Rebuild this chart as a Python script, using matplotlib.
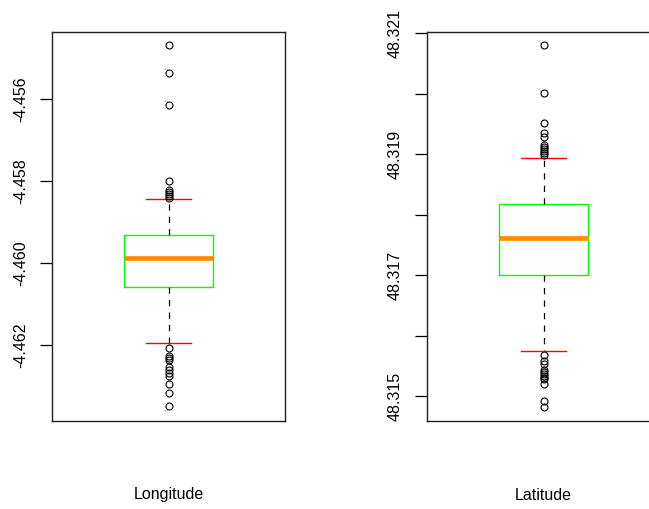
import numpy as np
import matplotlib
matplotlib.use('Agg')
import matplotlib.pyplot as plt

plt.rcParams['font.family'] = ['Liberation Sans', 'DejaVu Sans']
plt.rcParams['axes.unicode_minus'] = False

# Longitude: q1, median, q3 / whisker ends / outliers
lon_box = [-4.460585, -4.459878, -4.459317]
lon_whiskers = [-4.461959, -4.458451]
lon_fliers = [-4.454683, -4.455366, -4.456146, -4.458000,
              -4.458220, -4.458268, -4.458317, -4.458366, -4.458415,
              -4.462080, -4.462268, -4.462317, -4.462366, -4.462537,
              -4.462610, -4.462683, -4.462756, -4.462951, -4.463171,
              -4.463488]
lon_ticks = [-4.456, -4.458, -4.460, -4.462]
lon_ticklabels = ['-4.456', '-4.458', '-4.460', '-4.462']
lon_ylim = (-4.463854, -4.454366)

# Latitude
lat_box = [48.316995, 48.317617, 48.318174]
lat_whiskers = [48.315749, 48.318939]
lat_fliers = [48.320802, 48.320008, 48.319517, 48.319352, 48.319286,
              48.319149, 48.319116, 48.319083, 48.319050, 48.319017,
              48.318984,
              48.315678, 48.315583, 48.315529, 48.315430, 48.315397,
              48.315364, 48.315331, 48.315298, 48.315281, 48.315198,
              48.314922, 48.314823]
lat_ticks = [48.315, 48.316, 48.317, 48.318, 48.319, 48.320, 48.321]
lat_ticklabels = ['48.315', '', '48.317', '', '48.319', '', '48.321']
lat_ylim = (48.314587, 48.321017)

names = ['Longitude', 'Latitude']


def draw_box(ax, box, whis, fliers, ticks, ticklabels, ylim, name):
    stats = [dict(q1=box[0], med=box[1], q3=box[2],
                  whislo=whis[0], whishi=whis[1], fliers=fliers)]
    ax.bxp(stats, positions=[1], widths=0.378, capwidths=0.193,
           boxprops=dict(color='#00ff00', lw=1.0),
           medianprops=dict(color='#ff8c00', lw=3.4, solid_capstyle='butt'),
           whiskerprops=dict(color='black', lw=0.9, linestyle=(0, (5, 5))),
           capprops=dict(color='#ff0000', lw=1.0),
           flierprops=dict(marker='o', mfc='none', mec='black', ms=5, mew=0.8))
    ax.set_xlim(0.5, 1.5)
    ax.set_ylim(*ylim)
    ax.set_xticks([])
    ax.set_yticks(ticks)
    ax.set_yticklabels(ticklabels)
    ax.tick_params(axis='y', length=8.6, width=0.9, pad=8.6,
                   labelsize=11.5, labelrotation=90)
    for lab in ax.get_yticklabels():
        lab.set_va('center')
    for sp in ax.spines.values():
        sp.set_linewidth(1.0)
        sp.set_color('#222222')
    pos = ax.get_position()
    fig.text(pos.x0 + pos.width / 2, (509 - 495) / 509, name,
             ha='center', va='center', fontsize=11.5)


fig = plt.figure(figsize=(6.49, 5.09), dpi=100)
ax1 = fig.add_axes([52 / 649, 88 / 509, 233 / 649, 389 / 509])
ax2 = fig.add_axes([427 / 649, 88 / 509, 233 / 649, 389 / 509])

draw_box(ax1, lon_box, lon_whiskers, lon_fliers, lon_ticks, lon_ticklabels, lon_ylim, names[0])
draw_box(ax2, lat_box, lat_whiskers, lat_fliers, lat_ticks, lat_ticklabels, lat_ylim, names[1])

fig.savefig('out.png', dpi=100)
